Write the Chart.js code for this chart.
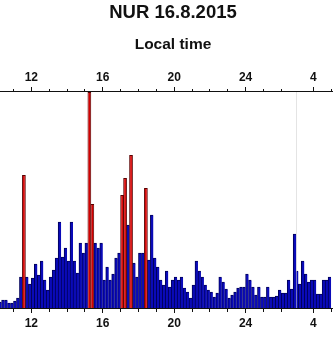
<!DOCTYPE html>
<html>
<head>
<meta charset="utf-8">
<style>
  html, body { margin: 0; padding: 0; overflow: hidden; background: #fff; width: 333px; height: 346px; }
  #wrap { width: 346px; height: 346px; }
</style>
<script src="https://cdn.jsdelivr.net/npm/chart.js@4.4.1/dist/chart.umd.min.js"></script>
</head>
<body>
<div id="wrap"><canvas id="c" width="346" height="346"></canvas></div>
<script>
// ---- text ----
const chartTitle = 'NUR 16.8.2015';
const axisTitle = 'Local time';

// ---- hour ticks (hours after midnight of day 1; 28 = 04 next day) ----
const tickHours = [11, 12, 13, 14, 15, 16, 17, 18, 19, 20, 21, 22, 23, 24, 25, 26, 27, 28, 29];
const majorHours = [12, 16, 20, 24, 28];

// ---- 10-minute bins, first panel, starting 10:10 ----
const day1FirstBin = 10 + 10 / 60;
const day1Counts = [
  6, 8, 8, 5, 5, 7, 10, 31, null, 31, 24,
  30, 44, 33, 47, 28, 18, 31, 38, 50, 86, 51, 60,
  47, 86, 47, 35, 65, 55, 65, null, null, 65, 60, 65,
  28, 41, 28, 34, 50, 55, null, null, 83, null, 45, 31,
  55, 55, null, 48, 93, 50, 41, 28, 23, 37, 21, 28,
  31, 28, 31, 20, 16, 10, 23, 47, 37, 31, 23, 18,
  16, 11, 15, 31, 26, 19, 10, 13, 16, 20, 21, 21,
  34, 28, 21, 13, 21, 11, 11, 21, 11, 11, 12, 18,
  15, 15, 28, 19, 74
];

// ---- highlighted (red) bins: start hour and value ----
const redBinHours = [11.5, 15 + 10 / 60, 15 + 20 / 60, 17, 17 + 10 / 60, 17.5, 18 + 20 / 60];
const redCounts = [133, 216, 104, 113, 130, 153, 120];

// ---- second panel, starting 03:00 next day ----
const day2FirstBin = 27;
const day2Counts = [37, 24, 47, 34, 26, 28, 28, 14, 14, 28, 28, 31];

// ---- axis ranges (hours) ----
const panel1Range = [10.244, 26.864];
const panel2Range = [27.075, 29.623];
const valueMax = 216;

const binW = 1 / 6;
const rnd = v => Math.round(v * 1e6) / 1e6;
const toPoints = (start, arr) => arr.map((v, i) => ({ x: rnd(start + i * binW + binW / 2), y: v }));
const day1Points = toPoints(day1FirstBin, day1Counts);
const day2Points = toPoints(day2FirstBin, day2Counts);
const redPoints = redBinHours.map((h, i) => ({ x: rnd(h + binW / 2), y: redCounts[i] }));

const isSep = (c, sep) => sep && c.tick && Math.abs(c.tick.value - c.scale.max) < 1e-9;

function hourScale(position, stackWeight, weight, range, tickPad, separator) {
  const top = position === 'top';
  return {
    type: 'linear', position, stack: position, stackWeight, weight,
    min: range[0], max: range[1], bounds: 'data', offset: false,
    afterBuildTicks: s => {
      const t = tickHours.filter(h => h >= s.min && h <= s.max).map(v => ({ value: v }));
      if (separator) t.push({ value: s.max });
      s.ticks = t;
    },
    ticks: {
      autoSkip: false, maxRotation: 0, minRotation: 0, padding: tickPad, color: '#111',
      font: { size: 12, weight: 'bold' },
      callback: v => majorHours.includes(v) ? String(v > 24 ? v - 24 : v) : ''
    },
    grid: {
      offset: false,
      drawOnChartArea: separator && !top,
      tickLength: 5, lineWidth: 1, tickWidth: 1,
      color: c => isSep(c, separator) ? '#e4e4e4' : 'rgba(0,0,0,0)',
      tickColor: c => isSep(c, separator) ? 'rgba(0,0,0,0)' : '#111',
      tickBorderDash: c => (c.tick && majorHours.includes(c.tick.value)) ? [] : (top ? [0, 2, 3, 20] : [3, 20])
    },
    border: { display: true, color: '#111', width: 1 }
  };
}

const barCommon = { grouped: false, categoryPercentage: 1, clip: 0, yAxisID: 'y' };

new Chart(document.getElementById('c'), {
  type: 'bar',
  data: {
    datasets: [
      Object.assign({ label: 'red', data: redPoints, xAxisID: 'x', barPercentage: 1.25,
        backgroundColor: '#d40000', borderColor: '#5a0000',
        borderWidth: { top: 1, left: 1, right: 1, bottom: 0 }, borderSkipped: false }, barCommon),
      Object.assign({ label: 'day1', data: day1Points, xAxisID: 'x', barPercentage: 1,
        backgroundColor: '#0a0ab8', borderColor: '#00005a',
        borderWidth: { top: 1, left: 1, right: 0, bottom: 0 }, borderSkipped: false }, barCommon),
      Object.assign({ label: 'day2', data: day2Points, xAxisID: 'x2', barPercentage: 1,
        backgroundColor: '#0a0ab8', borderColor: '#00005a',
        borderWidth: { top: 1, left: 1, right: 0, bottom: 0 }, borderSkipped: false }, barCommon)
    ]
  },
  options: {
    responsive: false,
    devicePixelRatio: 1,
    animation: false,
    events: [],
    font: { family: "'Liberation Sans', Arial, Helvetica, sans-serif" },
    layout: { padding: { top: 0, left: 0, right: 0, bottom: 11 } },
    plugins: {
      legend: { display: false },
      tooltip: { enabled: false },
      title: {
        display: true, text: chartTitle, color: '#111',
        font: { family: "'Liberation Sans', Arial, sans-serif", size: 18.5, weight: 'bold' },
        padding: { top: 1.6, bottom: 0 }
      },
      subtitle: {
        display: true, text: axisTitle, color: '#111',
        font: { family: "'Liberation Sans', Arial, sans-serif", size: 15.5, weight: 'bold' },
        padding: { top: 11.9, bottom: 14.1 }
      }
    },
    scales: {
      x: hourScale('bottom', 300, 0, panel1Range, 3.8, true),
      x2: hourScale('bottom', 46, 0, panel2Range, 3.8, false),
      xt: hourScale('top', 300, 1, panel1Range, 2.1, false),
      xt2: hourScale('top', 46, 0, panel2Range, 2.1, false),
      y: { display: false, min: 0, max: valueMax }
    }
  }
});
</script>
</body>
</html>
